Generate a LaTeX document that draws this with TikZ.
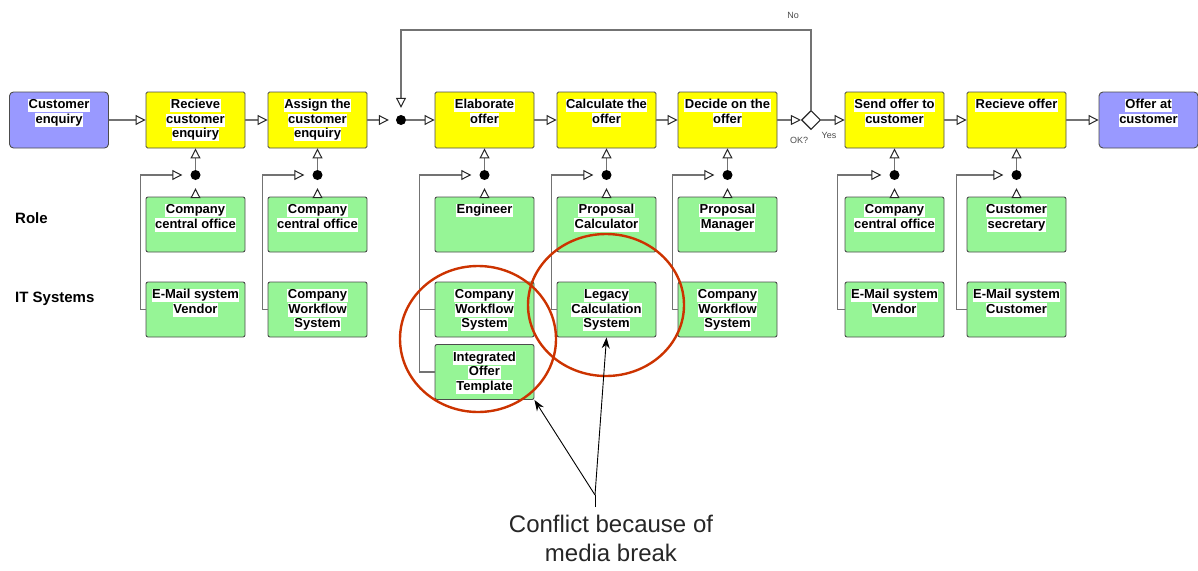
\documentclass[tikz,border=0pt]{standalone}
\usepackage{fontspec}
\setmainfont{Liberation Sans}
\usetikzlibrary{arrows.meta,shapes.geometric,calc}
\definecolor{evpurple}{RGB}{153,153,255}
\definecolor{fnyellow}{RGB}{255,255,0}
\definecolor{orggreen}{RGB}{150,245,150}
\definecolor{circred}{RGB}{204,51,0}
\newcommand{\hlt}[1]{{\setlength{\fboxsep}{0.5pt}\colorbox{white}{\rule[-3pt]{0pt}{12pt}#1}}}
\newcommand{\bxt}[2][56pt]{\parbox[c][#1][t]{95pt}{\centering\lineskiplimit=-100pt\rule{0pt}{16.5pt}#2}}
\begin{document}
\begin{tikzpicture}[x=1pt,y=-1pt,
  base/.style={draw=black!70, line width=0.9pt, inner ysep=0pt, inner xsep=2pt,
    font=\fontsize{13}{14.5}\selectfont\bfseries},
  func/.style={base, fill=fnyellow, rounded corners=1.5pt},
  ev/.style={base, fill=evpurple, rounded corners=4pt},
  org/.style={base, fill=orggreen, rounded corners=2pt},
  anddot/.style={circle, fill=black, minimum size=10pt, inner sep=0pt},
  xorgate/.style={diamond, draw=black!85, fill=white, line width=1.1pt, minimum size=19pt, inner sep=0pt},
  plain/.style={draw=black!55, line width=1.1pt},
  flow/.style={plain, -{Triangle[open, length=10pt, width=10pt, line width=1pt, color=black!85, fill=white]}},
  note/.style={draw=black, line width=0.9pt, -{Stealth[length=11pt, width=8pt]}},
  ring/.style={draw=circred, line width=2.4pt},
  lab/.style={anchor=base west, inner sep=0pt, font=\fontsize{15}{18}\selectfont\bfseries},
  small/.style={inner sep=0pt, text=black!70, font=\fontsize{9}{10}\selectfont}
]
\useasboundingbox (0,0) rectangle (1198,570);

% main row
\node[ev]   (ce) at (59,120)    {\bxt{\hlt{Customer}\\\hlt{enquiry}}};
\node[func] (f1) at (195.5,120) {\bxt{\hlt{Recieve}\\\hlt{customer}\\\hlt{enquiry}}};
\node[func] (f2) at (317.5,120) {\bxt{\hlt{Assign the}\\\hlt{customer}\\\hlt{enquiry}}};
\node[anddot] (d0) at (401,120) {};
\node[func] (f3) at (484.5,120) {\bxt{\hlt{Elaborate}\\\hlt{offer}}};
\node[func] (f4) at (606.5,120) {\bxt{\hlt{Calculate the}\\\hlt{offer}}};
\node[func] (f5) at (727.5,120) {\bxt{\hlt{Decide on the}\\\hlt{offer}}};
\node[xorgate] (dia) at (811,120) {};
\node[func] (f6) at (894.5,120) {\bxt{\hlt{Send offer to}\\\hlt{customer}}};
\node[func] (f7) at (1016.5,120) {\bxt{\hlt{Recieve offer}}};
\node[ev]   (oc) at (1148.5,120) {\bxt{\hlt{Offer at}\\\hlt{customer}}};

\node[small] (no) at (793,15) {No};
\node[small] (ok) at (799,140) {OK?};
\node[small] (yes) at (829,135) {Yes};

% AND dots below functions
\foreach \n/\x in {1/195.5,2/317.5,3/484.5,4/606.5,5/727.5,6/894.5,7/1016.5}
  \node[anddot] (d\n) at (\x,175) {};

% role row
\node[org] (r1) at (195.5,224.5) {\bxt[55pt]{\hlt{Company}\\\hlt{central office}}};
\node[org] (r2) at (317.5,224.5) {\bxt[55pt]{\hlt{Company}\\\hlt{central office}}};
\node[org] (r3) at (484.5,224.5) {\bxt[55pt]{\hlt{Engineer}}};
\node[org] (r4) at (606.5,224.5) {\bxt[55pt]{\hlt{Proposal}\\\hlt{Calculator}}};
\node[org] (r5) at (727.5,224.5) {\bxt[55pt]{\hlt{Proposal}\\\hlt{Manager}}};
\node[org] (r6) at (894.5,224.5) {\bxt[55pt]{\hlt{Company}\\\hlt{central office}}};
\node[org] (r7) at (1016.5,224.5) {\bxt[55pt]{\hlt{Customer}\\\hlt{secretary}}};

% IT row
\node[org] (i1) at (195.5,309.5) {\bxt[55pt]{\hlt{E-Mail system}\\\hlt{Vendor}}};
\node[org] (i2) at (317.5,309.5) {\bxt[55pt]{\hlt{Company}\\\hlt{Workflow}\\\hlt{System}}};
\node[org] (i3) at (484.5,309.5) {\bxt[55pt]{\hlt{Company}\\\hlt{Workflow}\\\hlt{System}}};
\node[org] (iot) at (484.5,372) {\bxt[55pt]{\hlt{Integrated}\\\hlt{Offer}\\\hlt{Template}}};
\node[org] (i4) at (606.5,309.5) {\bxt[55pt]{\hlt{Legacy}\\\hlt{Calculation}\\\hlt{System}}};
\node[org] (i5) at (727.5,309.5) {\bxt[55pt]{\hlt{Company}\\\hlt{Workflow}\\\hlt{System}}};
\node[org] (i6) at (894.5,309.5) {\bxt[55pt]{\hlt{E-Mail system}\\\hlt{Vendor}}};
\node[org] (i7) at (1016.5,309.5) {\bxt[55pt]{\hlt{E-Mail system}\\\hlt{Customer}}};

\node[lab] (lrole) at (15,223) {Role};
\node[lab] (lit) at (15,302) {IT Systems};

% main flow
\draw[flow] (ce.east) -- (f1.west);
\draw[flow] (f1.east) -- (f2.west);
\draw[flow, shorten >=7pt] (f2.east) -- (d0.west);
\draw[flow] (d0.east) -- (f3.west);
\draw[flow] (f3.east) -- (f4.west);
\draw[flow] (f4.east) -- (f5.west);
\draw[flow] (f5.east) -- (dia.west);
\draw[flow] (dia.east) -- (f6.west);
\draw[flow] (f6.east) -- (f7.west);
\draw[flow] (f7.east) -- (oc.west);
\draw[flow, shorten >=7pt] (dia.north) -- ++(0,-80) -| (d0.north);

% dots to functions, roles to dots
\foreach \n in {1,...,7}{
  \draw[flow] (d\n.north) -- (f\n.south);
  \draw[flow, shorten >=8pt] (r\n.north) -- (d\n.south);
}
% IT systems to dots
\draw[flow, shorten >=8pt] (i1.west) -- ++(-5,0) |- (d1.west);
\draw[flow, shorten >=8pt] (i2.west) -- ++(-5,0) |- (d2.west);
\draw[flow, shorten >=8pt] (iot.west) -- ++(-15,0) |- (d3.west);
\draw[plain] (i3.west) -- ++(-15,0);
\draw[flow, shorten >=8pt] (i4.west) -- ++(-5,0) |- (d4.west);
\draw[flow, shorten >=8pt] (i5.west) -- ++(-5,0) |- (d5.west);
\draw[flow, shorten >=8pt] (i6.west) -- ++(-7,0) |- (d6.west);
\draw[flow, shorten >=8pt] (i7.west) -- ++(-10,0) |- (d7.west);

% red rings
\draw[ring] (478,339) ellipse [x radius=78pt, y radius=73pt];
\draw[ring] (606,305) ellipse [x radius=78pt, y radius=71pt];

% annotation
\node[inner sep=0pt, align=center, text=black!85, font=\fontsize{24}{29}\selectfont] (conf) at (611,538) {Conflict because of\\media break};
\coordinate (jn) at (595,495);
\coordinate (jb) at (595,507);
\draw[draw=black, line width=0.9pt] (jb) -- (jn);
\draw[note] (jn) -- (iot.south east);
\draw[note] (jn) -- (i4.south);
\end{tikzpicture}
\end{document}
